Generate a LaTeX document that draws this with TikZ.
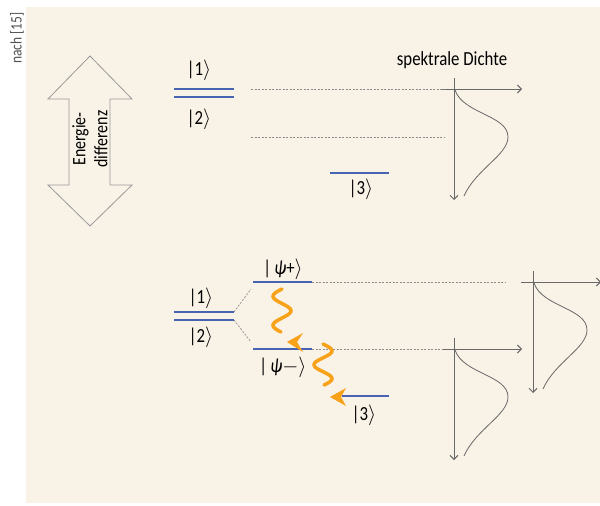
\documentclass[tikz,border=0pt]{standalone}
\usepackage{fontspec}
\setmainfont{Carlito}[FakeStretch=0.84]
\usetikzlibrary{arrows.meta,calc}
\definecolor{bg}{RGB}{249,242,231}
\definecolor{lvl}{RGB}{70,100,175}
\definecolor{ax}{RGB}{105,105,105}
\definecolor{dotc}{RGB}{140,140,140}
\definecolor{org}{RGB}{247,162,25}
\definecolor{srcc}{RGB}{80,80,80}
\newcommand{\myket}[1]{|#1\ensuremath{\rangle}}
\newcommand{\specplot}[1]{%
  \draw[axisline] ($(#1)+(0,-11)$) -- ($(#1)+(0,111)$);
  \draw[axisline] ($(#1)+(-12,0)$) -- ($(#1)+(68,0)$);
  \draw[curveline] ($(#1)+(1,1)$) .. controls ($(#1)+(9,25)$) and ($(#1)+(54,26)$) .. ($(#1)+(54,48)$)
     .. controls ($(#1)+(54,66)$) and ($(#1)+(22,80)$) .. ($(#1)+(10,107)$);
}
\begin{document}
\begin{tikzpicture}[x=1pt,y=-1pt,
  levelline/.style={draw=lvl, line width=2.2pt},
  dotline/.style={draw=dotc, dash pattern=on 2pt off 1.5pt, line width=0.7pt},
  axisline/.style={draw=ax, line width=1pt, -{Straight Barb[length=4pt,width=8pt]}},
  curveline/.style={draw=ax, line width=0.8pt},
  lab/.style={font=\fontsize{20}{22}\selectfont, inner sep=1pt},
  wave/.style={draw=org, line width=3.5pt, line cap=round},
  headfill/.style={fill=org},
  bigarrow/.style={draw=gray!80, line width=0.8pt, fill=bg}]
\useasboundingbox (0,0) rectangle (600,506);
\fill[bg] (26,7) rectangle (600,503);
\node[rotate=90, font=\fontsize{16}{18}\selectfont, text=srcc] (src) at (17,38) {nach [15]};

% big double arrow
\draw[bigarrow] (90,56) -- (132,99) -- (110,99) -- (110,185) -- (132,185) -- (90,226)
  -- (48,185) -- (69,185) -- (69,99) -- (48,99) -- cycle;
\node[rotate=90, align=center, font=\fontsize{19}{22}\selectfont] (ediff) at (90,139) {Energie-\\differenz};

% ---------- top part ----------
\coordinate (t1l) at (174,89); \coordinate (t1r) at (234,89);
\coordinate (t2l) at (174,97); \coordinate (t2r) at (234,97);
\draw[levelline] (t1l) -- (t1r);
\draw[levelline] (t2l) -- (t2r);
\node[lab] (k1t) at (199,70) {\myket{1}};
\node[lab] (k2t) at (199,119) {\myket{2}};
\coordinate (t3l) at (330,173); \coordinate (t3r) at (389,173);
\draw[levelline] (t3l) -- (t3r);
\node[lab] (k3t) at (361,189) {\myket{3}};

\coordinate (oA) at (454,89);
\specplot{oA}
\node[lab] (sd) at (452,60) {spektrale Dichte};
\coordinate (dA1s) at (251,89); \coordinate (dA1e) at (445,89);
\coordinate (dA2s) at (251,137); \coordinate (dA2e) at (445,137);
\draw[dotline] (dA1s) -- (dA1e);
\draw[dotline] (dA2s) -- (dA2e);

% ---------- bottom part ----------
\coordinate (b1l) at (174,312); \coordinate (b1r) at (234,312);
\coordinate (b2l) at (174,320); \coordinate (b2r) at (234,320);
\draw[levelline] (b1l) -- (b1r);
\draw[levelline] (b2l) -- (b2r);
\node[lab] (k1b) at (201,298) {\myket{1}};
\node[lab] (k2b) at (201,337) {\myket{2}};

\coordinate (pl) at (253,282); \coordinate (pr) at (312,282);
\coordinate (ml) at (253,349); \coordinate (mr) at (312,349);
\coordinate (cl) at (342,396); \coordinate (cr) at (389,396);
\draw[dotline] (b1r) -- (251,289);
\draw[dotline] (b2r) -- (251,342);
\draw[levelline] (pl) -- (pr);
\draw[levelline] (ml) -- (mr);
\draw[levelline] (cl) -- (cr);
\node[lab] (kp) at (283,269) {|\,\textit{ψ}+\ensuremath{\rangle}};
\node[lab] (km) at (283,367) {|\,\textit{ψ}\ensuremath{-}\ensuremath{\rangle}};
\node[lab] (k3b) at (364,415) {\myket{3}};

\coordinate (oB) at (533,282);
\coordinate (oC) at (454,349);
\specplot{oB}
\specplot{oC}
\draw[dotline] (pr) -- (505,282);
\draw[dotline] (mr) -- (443,349);

% photons
\draw[wave] plot[domain=0:43, samples=60, smooth] ({282-9*sin(\x*12.4)},{289+\x});
\fill[headfill] (287,342) -- (303,333) -- (297,342) -- (303,352) -- cycle;
\draw[wave] plot[domain=0:41, samples=60, smooth] ({323+9*sin(\x*13)},{344+\x});
\fill[headfill] (330,397) -- (346,388) -- (341,397) -- (346,406) -- cycle;
\end{tikzpicture}
\end{document}
